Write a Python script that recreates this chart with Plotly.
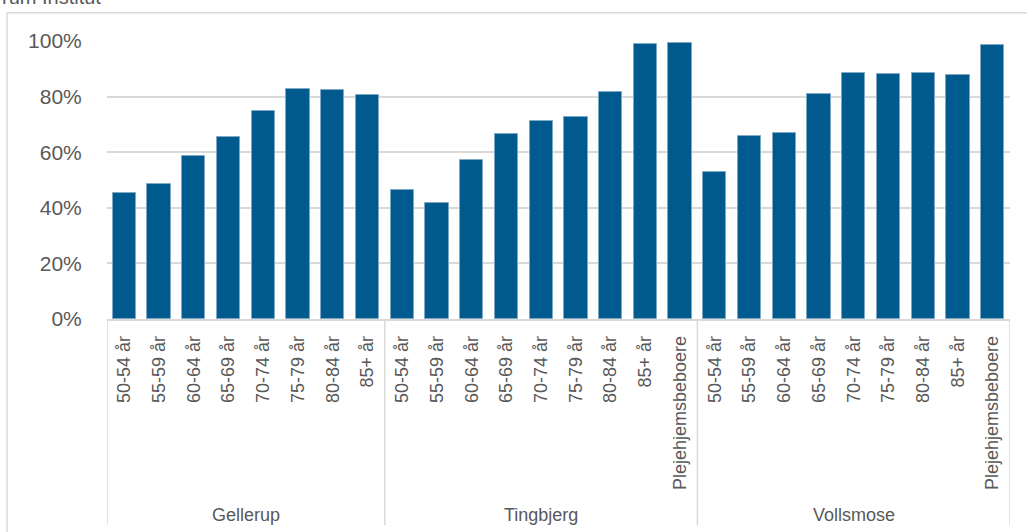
import plotly.graph_objects as go

# Share of residents per age band, by neighbourhood
groups = ["Gellerup", "Tingbjerg", "Vollsmose"]
gellerup_labels = ["50-54 år", "55-59 år", "60-64 år", "65-69 år", "70-74 år",
                   "75-79 år", "80-84 år", "85+ år"]
tingbjerg_labels = gellerup_labels + ["Plejehjemsbeboere"]
vollsmose_labels = gellerup_labels + ["Plejehjemsbeboere"]

gellerup_values = [45.2, 48.7, 58.8, 65.4, 75.0, 82.7, 82.5, 80.6]
tingbjerg_values = [46.4, 41.8, 57.3, 66.4, 71.3, 72.5, 81.8, 98.8, 99.4]
vollsmose_values = [53.0, 66.0, 67.0, 81.1, 88.5, 88.3, 88.6, 87.8, 98.7]

y_ticks = [0, 20, 40, 60, 80, 100]

labels = gellerup_labels + tingbjerg_labels + vollsmose_labels
values = gellerup_values + tingbjerg_values + vollsmose_values
group_sizes = [len(gellerup_labels), len(tingbjerg_labels), len(vollsmose_labels)]
positions = list(range(len(labels)))

BAR = "#005A8D"
GRID = "#D9D9D9"
TEXT = "#595959"
FONT = "Liberation Sans, Arial, sans-serif"

fig = go.Figure(go.Bar(
    x=positions,
    y=values,
    width=0.67,
    marker=dict(color=BAR, line=dict(color="#7FA8C6", width=1)),
    hoverinfo="skip",
))

# group dividers and group names below the tick labels
shapes = []
annotations = []
start = 0
bounds = [-0.5]
for g, n in zip(groups, group_sizes):
    annotations.append(dict(
        x=start + (n - 1) / 2, xref="x", y=-0.704, yref="paper",
        text=g, showarrow=False, xanchor="center", yanchor="middle",
        font=dict(family=FONT, size=18, color=TEXT),
    ))
    start += n
    bounds.append(start - 0.5)
for b in bounds:
    shapes.append(dict(type="line", xref="x", yref="paper",
                       x0=b, x1=b, y0=0, y1=-0.741,
                       line=dict(color=GRID, width=1.5)))

# outer chart frame (top and left edges)
shapes.append(dict(type="line", xref="paper", yref="paper",
                   x0=-0.1107, x1=1.1, y0=1.102, y1=1.102,
                   line=dict(color=GRID, width=1.5)))
shapes.append(dict(type="line", xref="paper", yref="paper",
                   x0=-0.1107, x1=-0.1107, y0=1.102, y1=-0.8,
                   line=dict(color=GRID, width=1.5)))

annotations.append(dict(
    x=-0.1185, xref="paper", y=1.112, yref="paper",
    text="rum Institut", showarrow=False, xanchor="left", yanchor="bottom",
    font=dict(family=FONT, size=20, color=TEXT),
))

fig.update_layout(
    width=1027, height=532,
    margin=dict(l=107, r=17, t=41, b=213),
    paper_bgcolor="white", plot_bgcolor="white",
    showlegend=False,
    bargap=0,
    shapes=shapes,
    annotations=annotations,
    font=dict(family=FONT, color=TEXT),
)
fig.update_xaxes(
    range=[-0.5, len(labels) - 0.5],
    tickmode="array", tickvals=positions, ticktext=labels,
    tickangle=-90,
    tickfont=dict(family=FONT, size=18, color=TEXT),
    ticks="outside", ticklen=8, tickcolor="rgba(0,0,0,0)",
    showgrid=False, zeroline=False,
    showline=True, linecolor=GRID, linewidth=1.5,
    fixedrange=True,
)
fig.update_yaxes(
    range=[0, 100],
    tickmode="array", tickvals=y_ticks,
    ticktext=[f"{t}%" for t in y_ticks],
    tickfont=dict(family=FONT, size=21, color=TEXT),
    ticks="outside", ticklen=20, tickcolor="rgba(0,0,0,0)",
    showgrid=True, gridcolor=GRID, gridwidth=1.5,
    zeroline=False, showline=False,
    fixedrange=True,
)

fig.write_html("out.html", config={"displayModeBar": False})
